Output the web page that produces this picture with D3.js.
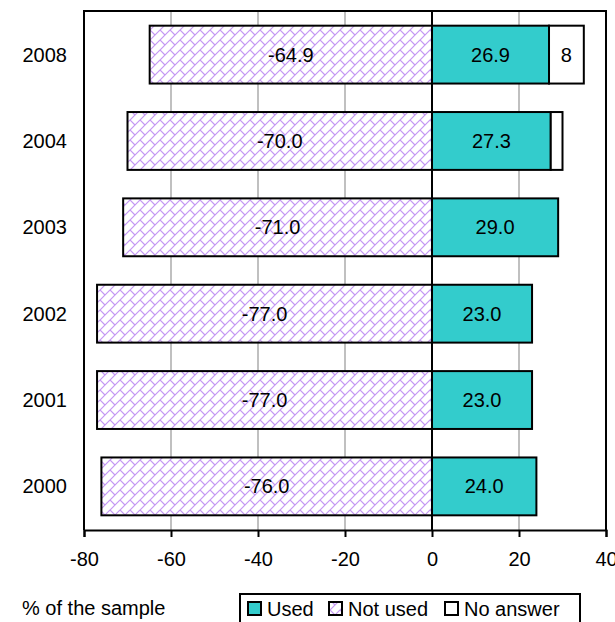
<!DOCTYPE html>
<html><head><meta charset="utf-8">
<script src="https://cdn.jsdelivr.net/npm/d3@7"></script>
<style>html,body{margin:0;padding:0;background:#fff;}svg{display:block;font-family:"Liberation Sans",Arial,sans-serif;}</style>
</head><body>
<svg id="chart" width="615" height="622"></svg>
<script>
const years = ["2008","2004","2003","2002","2001","2000"];
const notUsed = [-64.9, -70.0, -71.0, -77.0, -77.0, -76.0];
const used = [26.9, 27.3, 29.0, 23.0, 23.0, 24.0];
const noAnswer = [8, 2.7, 0, 0, 0, 0];
const noAnswerLabels = ["8", "", "", "", "", ""];
const xTicks = [-80, -60, -40, -20, 0, 20, 40];
const legendItems = ["Used", "Not used", "No answer"];

const svg = d3.select("#chart");
const L = 84, R = 606, T = 11, B = 530;
const x = d3.scaleLinear().domain([-80, 40]).range([L, R]);
const y = d3.scaleBand().domain(years).range([T, B]).paddingInner(0.33).paddingOuter(0.17);

const defs = svg.append("defs");
const S = 10;
const pat = defs.append("pattern").attr("id", "brick").attr("patternUnits", "userSpaceOnUse")
  .attr("width", S).attr("height", S);
pat.append("rect").attr("width", S).attr("height", S).attr("fill", "#fff");
pat.append("path").attr("d", `M-1,${S+1} L${S+1},-1 M-1,1 L1,-1 M${S-1},${S+1} L${S+1},${S-1} M0,0 L${S/2},${S/2}`)
  .attr("stroke", "#c496f4").attr("stroke-width", 1.2).attr("fill", "none");

svg.append("g").selectAll("line").data(xTicks.filter(t => t !== 0 && t !== -80 && t !== 40)).join("line")
  .attr("x1", d => x(d)).attr("x2", d => x(d)).attr("y1", T).attr("y2", B)
  .attr("stroke", "#c0c0c0").attr("stroke-width", 2);

const rows = years.map((yr, i) => ({yr, nu: notUsed[i], u: used[i], na: noAnswer[i], nal: noAnswerLabels[i]}));
const g = svg.append("g");
g.selectAll(".nu").data(rows).join("rect").attr("class", "nu")
  .attr("x", d => x(d.nu)).attr("width", d => x(0) - x(d.nu))
  .attr("y", d => y(d.yr)).attr("height", y.bandwidth())
  .attr("fill", "url(#brick)").attr("stroke", "#000").attr("stroke-width", 2);
g.selectAll(".u").data(rows).join("rect").attr("class", "u")
  .attr("x", x(0)).attr("width", d => x(d.u) - x(0))
  .attr("y", d => y(d.yr)).attr("height", y.bandwidth())
  .attr("fill", "#33cccc").attr("stroke", "#000").attr("stroke-width", 2);
g.selectAll(".na").data(rows.filter(d => d.na > 0)).join("rect").attr("class", "na")
  .attr("x", d => x(d.u)).attr("width", d => x(d.u + d.na) - x(d.u))
  .attr("y", d => y(d.yr)).attr("height", y.bandwidth())
  .attr("fill", "#fff").attr("stroke", "#000").attr("stroke-width", 2);

const fs = 20;
g.selectAll(".lnu").data(rows).join("text")
  .attr("x", d => (x(d.nu) + x(0)) / 2).attr("y", d => y(d.yr) + y.bandwidth() / 2)
  .attr("dy", "0.35em").attr("text-anchor", "middle").attr("font-size", fs)
  .text(d => d.nu.toFixed(1));
g.selectAll(".lu").data(rows).join("text")
  .attr("x", d => (x(d.u) + x(0)) / 2).attr("y", d => y(d.yr) + y.bandwidth() / 2)
  .attr("dy", "0.35em").attr("text-anchor", "middle").attr("font-size", fs)
  .text(d => d.u.toFixed(1));
g.selectAll(".lna").data(rows.filter(d => d.nal)).join("text")
  .attr("x", d => (x(d.u) + x(d.u + d.na)) / 2).attr("y", d => y(d.yr) + y.bandwidth() / 2)
  .attr("dy", "0.35em").attr("text-anchor", "middle").attr("font-size", fs)
  .text(d => d.nal);

svg.append("line").attr("x1", x(0)).attr("x2", x(0)).attr("y1", T).attr("y2", B)
  .attr("stroke", "#000").attr("stroke-width", 2);
svg.append("path").attr("d", `M${L},${B} L${L},${T} L${R},${T} L${R},${B}`)
  .attr("fill", "none").attr("stroke", "#000").attr("stroke-width", 2);

const xAxis = svg.append("g").attr("transform", `translate(0,${B})`)
  .call(d3.axisBottom(x).tickValues(xTicks).tickSize(7).tickPadding(15).tickFormat(d3.format("d")));
xAxis.select(".domain").attr("stroke", "#000").attr("stroke-width", 2);
xAxis.selectAll(".tick line").attr("stroke", "#000").attr("stroke-width", 2);
xAxis.selectAll("text").attr("font-size", fs).attr("fill", "#000")
  .attr("font-family", "Liberation Sans, Arial, sans-serif").text(d => d < 0 ? "-" + Math.abs(d) : d);

svg.append("g").selectAll("text").data(years).join("text")
  .attr("x", 67).attr("y", d => y(d) + y.bandwidth() / 2).attr("dy", "0.35em")
  .attr("text-anchor", "end").attr("font-size", fs).text(d => d);

svg.append("text").attr("x", 22).attr("y", 615).attr("font-size", 20).text("% of the sample");

const lg = svg.append("g");
lg.append("rect").attr("x", 240).attr("y", 594).attr("width", 340).attr("height", 40)
  .attr("fill", "#fff").attr("stroke", "#000").attr("stroke-width", 2);
const lgFills = ["#33cccc", "url(#brick)", "#fff"];
const lgX = [248, 329, 445];
legendItems.forEach((t, i) => {
  lg.append("rect").attr("x", lgX[i]).attr("y", 602).attr("width", 13).attr("height", 13)
    .attr("fill", lgFills[i]).attr("stroke", "#000").attr("stroke-width", 2);
  lg.append("text").attr("x", lgX[i] + 19).attr("y", 616).attr("font-size", 20).text(t);
});
</script>
</body></html>
